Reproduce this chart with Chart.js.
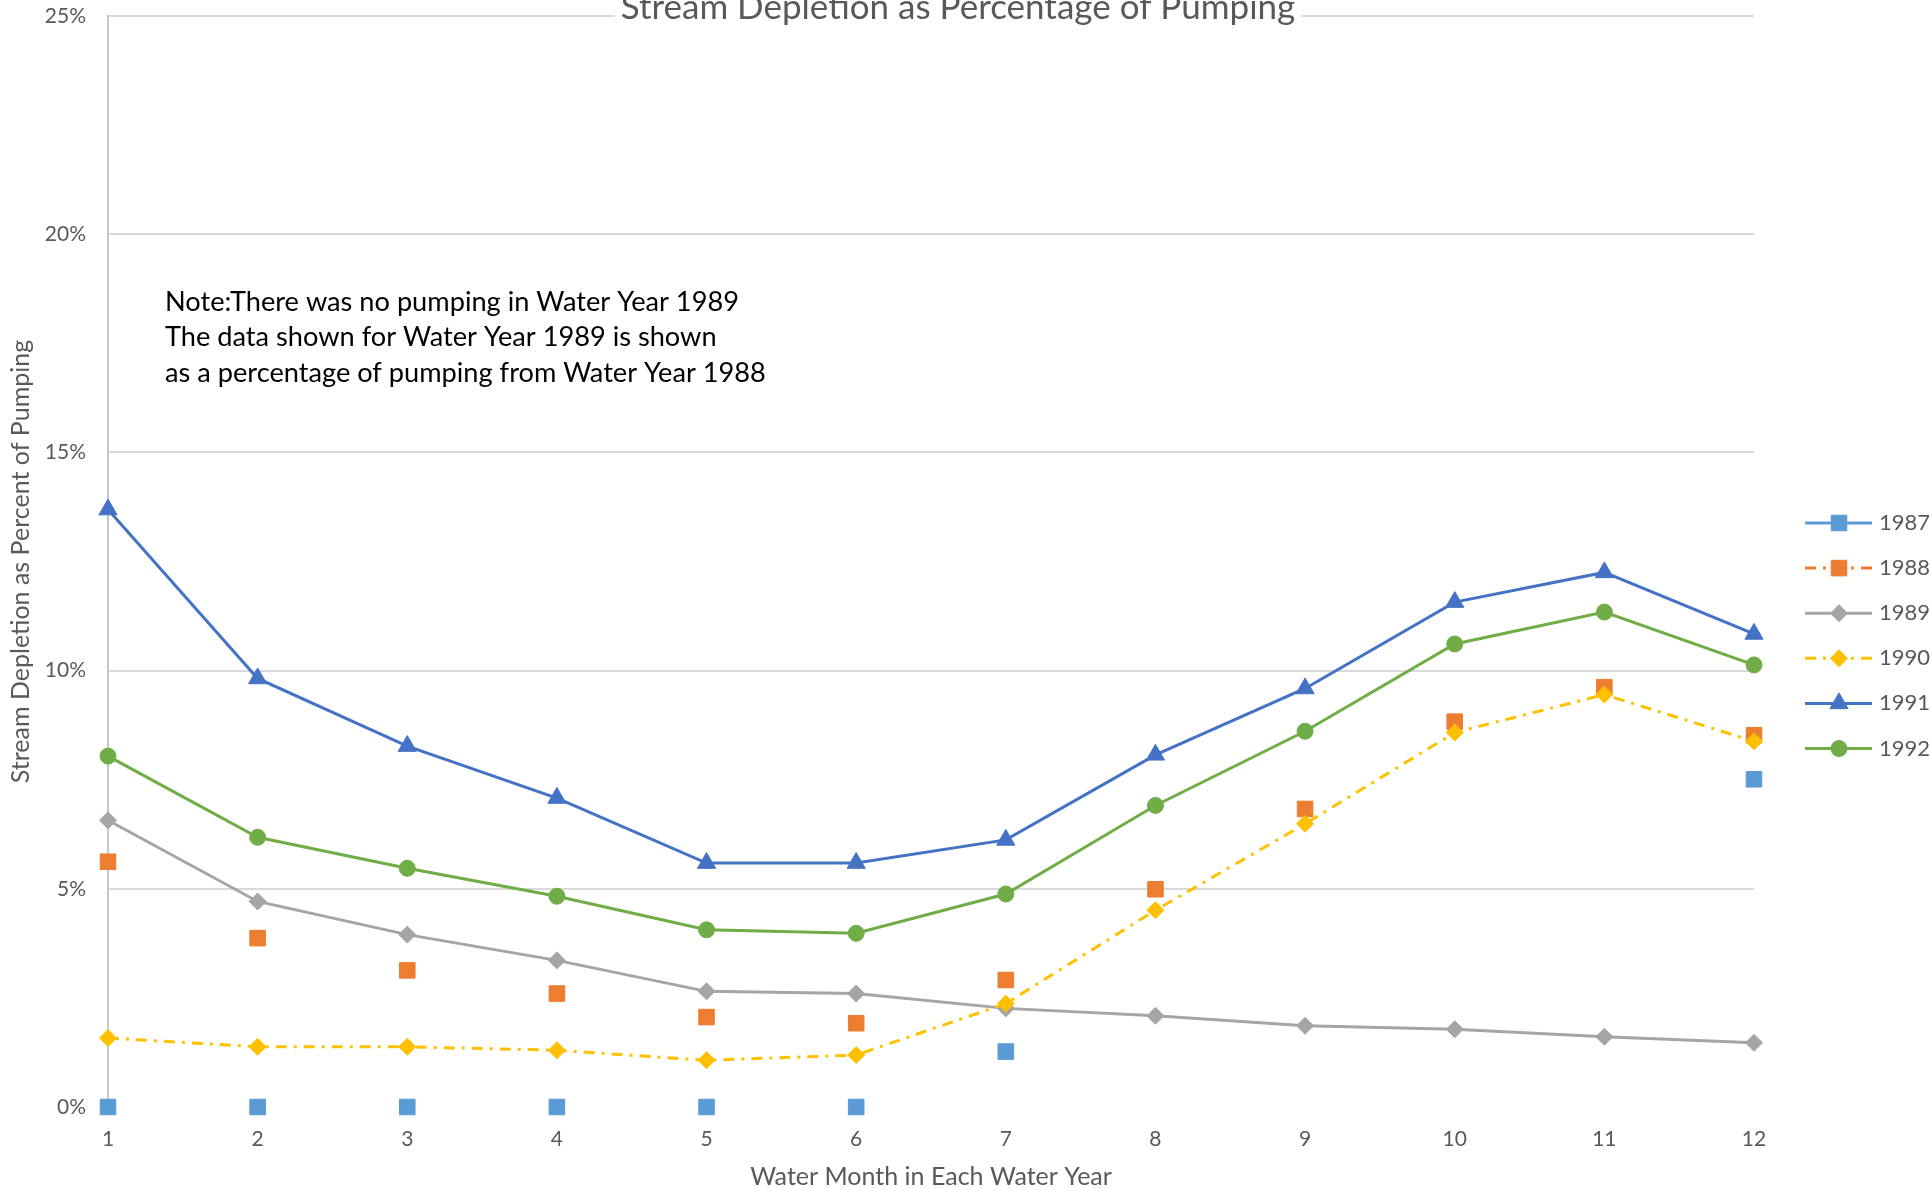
<!DOCTYPE html>
<html>
<head>
<meta charset="utf-8">
<title>Stream Depletion as Percentage of Pumping</title>
<script src="https://cdn.jsdelivr.net/npm/chart.js@4"></script>
<style>
    html, body { margin: 0; padding: 0; background: #ffffff; }
    #chartBox { width: 1931px; height: 1190px; }
</style>
</head>
<body>
<div id="chartBox"><canvas id="depletionChart" width="1931" height="1190"></canvas></div>
<script>
    'use strict';

    const months = ['1', '2', '3', '4', '5', '6', '7', '8', '9', '10', '11', '12'];
    const yTicks = [0, 5, 10, 15, 20, 25];

    const wy1987 = [0, 0, 0, 0, 0, 0, 1.27, null, null, null, null, 7.51];
    const wy1988 = [5.62, 3.87, 3.13, 2.60, 2.06, 1.92, 2.91, 4.99, 6.83, 8.83, 9.62, 8.52];
    const wy1989 = [6.57, 4.71, 3.95, 3.36, 2.65, 2.60, 2.26, 2.09, 1.86, 1.78, 1.61, 1.47];
    const wy1990 = [1.58, 1.38, 1.38, 1.30, 1.07, 1.19, 2.37, 4.51, 6.49, 8.58, 9.45, 8.38];
    const wy1991 = [13.69, 9.82, 8.27, 7.08, 5.59, 5.59, 6.12, 8.07, 9.59, 11.57, 12.25, 10.84];
    const wy1992 = [8.04, 6.18, 5.47, 4.83, 4.06, 3.98, 4.88, 6.91, 8.61, 10.61, 11.34, 10.13];

    const chartTitle = 'Stream Depletion as Percentage of Pumping';
    const noteLines = [
        'Note:There was no pumping in Water Year 1989',
        'The data shown for Water Year 1989 is shown',
        'as a percentage of pumping from Water Year 1988'
    ];

    const textGray = '#595959';
    const dashDot = [11, 7, 3, 7];
    const fontFamily = 'Lato, "Open Sans", sans-serif';

    function series(label, data, color, style, radius, showLine, dash) {
        return {
            label: label,
            data: data,
            borderColor: color,
            backgroundColor: color,
            pointStyle: style,
            pointRadius: radius,
            pointHoverRadius: radius,
            pointBorderWidth: 1,
            borderWidth: 3,
            borderDash: dash || [],
            legendDash: dash || [],
            showLine: showLine,
            spanGaps: false,
            clip: false,
            tension: 0
        };
    }

    const datasets = [
        series('1987', wy1987, '#5B9BD5', 'rect', 11, false),
        series('1988', wy1988, '#ED7D31', 'rect', 11, false, dashDot),
        series('1989', wy1989, '#A5A5A5', 'rectRot', 8.5, true),
        series('1990', wy1990, '#FFC000', 'rectRot', 8.5, true, dashDot),
        series('1991', wy1991, '#4472C4', 'triangle', 10.5, true),
        series('1992', wy1992, '#70AD47', 'circle', 8, true)
    ];
    // later series drawn on top, like the spreadsheet did
    datasets.forEach(function(ds, i) { ds.order = datasets.length - 1 - i; });

    const overlayPlugin = {
        id: 'overlay',
        afterDraw: function(chart) {
            const ctx = chart.ctx;
            ctx.save();

            // title sits over the top gridline with a white box behind it
            ctx.font = '35px ' + fontFamily;
            ctx.textAlign = 'center';
            ctx.textBaseline = 'alphabetic';
            const titleX = 958;
            const tw = ctx.measureText(chartTitle).width;
            ctx.fillStyle = '#ffffff';
            ctx.fillRect(titleX - tw / 2 - 6, 0, tw + 12, 30);
            ctx.fillStyle = textGray;
            ctx.fillText(chartTitle, titleX, 19);

            // note text box
            ctx.font = '27.2px ' + fontFamily;
            ctx.textAlign = 'left';
            ctx.textBaseline = 'middle';
            ctx.fillStyle = '#000000';
            noteLines.forEach(function(line, i) {
                ctx.fillText(line, 165, 302 + i * 35.5);
            });

            // legend: line sample + marker + year
            chart.data.datasets.forEach(function(ds, i) {
                const y = 523 + i * 45.1;
                ctx.beginPath();
                ctx.strokeStyle = ds.borderColor;
                ctx.lineWidth = 3;
                ctx.setLineDash(ds.legendDash);
                ctx.moveTo(1805, y);
                ctx.lineTo(1872, y);
                ctx.stroke();
                ctx.setLineDash([]);
                ctx.fillStyle = ds.backgroundColor;
                ctx.lineWidth = 1;
                Chart.helpers.drawPoint(ctx, {
                    pointStyle: ds.pointStyle,
                    radius: ds.pointRadius,
                    borderWidth: 1,
                    rotation: 0
                }, 1839, y);
                ctx.fillStyle = textGray;
                ctx.font = '22px ' + fontFamily;
                ctx.textBaseline = 'middle';
                ctx.fillText(ds.label, 1879, y);
            });

            ctx.restore();
        }
    };

    const ctx = document.getElementById('depletionChart');
    new Chart(ctx, {
        type: 'line',
        data: {
            labels: months,
            datasets: datasets
        },
        options: {
            responsive: false,
            animation: false,
            events: [],
            layout: {
                padding: { left: 0, top: 16, right: 177, bottom: 0 }
            },
            plugins: {
                legend: { display: false },
                tooltip: { enabled: false },
                title: { display: false }
            },
            scales: {
                x: {
                    offset: false,
                    afterFit: function(scale) {
                        scale.height = 83;
                        scale.paddingLeft = 0;
                        scale.paddingRight = 0;
                    },
                    grid: { display: false, drawTicks: false },
                    border: { display: false },
                    ticks: {
                        color: textGray,
                        font: { family: fontFamily, size: 21 },
                        padding: 20,
                        maxRotation: 0,
                        autoSkip: false
                    },
                    title: {
                        display: true,
                        text: 'Water Month in Each Water Year',
                        color: textGray,
                        font: { family: fontFamily, size: 25, lineHeight: 1.05 },
                        padding: { top: 0, bottom: 0 }
                    }
                },
                y: {
                    min: yTicks[0],
                    max: yTicks[yTicks.length - 1],
                    afterFit: function(scale) {
                        scale.width = 108;
                        scale.paddingTop = 0;
                        scale.paddingBottom = 0;
                    },
                    afterBuildTicks: function(scale) {
                        scale.ticks = yTicks.map(function(v) { return { value: v }; });
                    },
                    grid: {
                        drawTicks: false,
                        lineWidth: 2,
                        color: function(c) {
                            return c.tick && c.tick.value === 0 ? 'rgba(0,0,0,0)' : '#D9D9D9';
                        }
                    },
                    border: { display: true, color: '#C8C8C8', width: 2 },
                    ticks: {
                        color: textGray,
                        font: { family: fontFamily, size: 21 },
                        padding: 22,
                        callback: function(v) { return v + '%'; }
                    },
                    title: {
                        display: true,
                        text: 'Stream Depletion as Percent of Pumping',
                        color: textGray,
                        font: { family: fontFamily, size: 25 },
                        padding: { top: 6, bottom: 0 }
                    }
                }
            }
        },
        plugins: [overlayPlugin]
    });
</script>
</body>
</html>
